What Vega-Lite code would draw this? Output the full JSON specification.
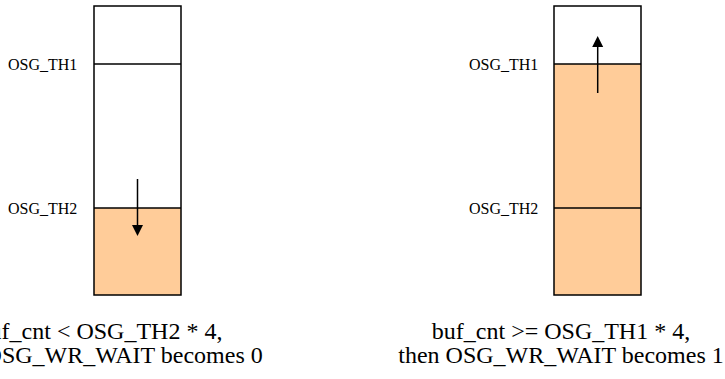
{
  "$schema": "https://vega.github.io/schema/vega-lite/v6.json",
  "width": 725,
  "height": 379,
  "padding": 0,
  "autosize": {"type": "none"},
  "background": "white",
  "config": {"view": {"stroke": null}},
  "datasets": {
    "fills": [
      {"x": 94, "x2": 181, "y": 208, "y2": 295},
      {"x": 554, "x2": 641, "y": 64, "y2": 295}
    ],
    "boxes": [
      {"x": 94, "x2": 181, "y": 6, "y2": 295},
      {"x": 554, "x2": 641, "y": 6, "y2": 295}
    ],
    "thresholds": [
      {"x": 94, "x2": 181, "y": 64, "label": "OSG_TH1", "lx": 8, "ly": 69.5},
      {"x": 94, "x2": 181, "y": 208, "label": "OSG_TH2", "lx": 8, "ly": 213.5},
      {"x": 554, "x2": 641, "y": 64, "label": "OSG_TH1", "lx": 469, "ly": 69.5},
      {"x": 554, "x2": 641, "y": 208, "label": "OSG_TH2", "lx": 469, "ly": 213.5}
    ],
    "shafts": [
      {"x": 137.5, "y": 179, "y2": 228},
      {"x": 597.7, "y": 44, "y2": 93}
    ],
    "headsDown": [
      {"x": 137.5, "y": 230.5}
    ],
    "headsUp": [
      {"x": 597.7, "y": 41.5}
    ],
    "captions": [
      {"x": 100, "y": 339, "text": "buf_cnt < OSG_TH2 * 4,"},
      {"x": 100, "y": 363, "text": "then OSG_WR_WAIT becomes 0"},
      {"x": 561, "y": 339, "text": "buf_cnt >= OSG_TH1 * 4,"},
      {"x": 561, "y": 363, "text": "then OSG_WR_WAIT becomes 1"}
    ]
  },
  "encoding": {},
  "layer": [
    {
      "data": {"name": "fills"},
      "mark": {"type": "rect", "fill": "#FFCC99", "stroke": null},
      "encoding": {
        "x": {"field": "x", "type": "quantitative", "scale": {"domain": [0, 725], "nice": false, "zero": false}, "axis": null},
        "x2": {"field": "x2"},
        "y": {"field": "y", "type": "quantitative", "scale": {"domain": [0, 379], "nice": false, "zero": false, "reverse": true}, "axis": null},
        "y2": {"field": "y2"}
      }
    },
    {
      "data": {"name": "boxes"},
      "mark": {"type": "rect", "fill": null, "fillOpacity": 0, "stroke": "#000000", "strokeWidth": 1.5},
      "encoding": {
        "x": {"field": "x", "type": "quantitative", "axis": null},
        "x2": {"field": "x2"},
        "y": {"field": "y", "type": "quantitative", "axis": null},
        "y2": {"field": "y2"}
      }
    },
    {
      "data": {"name": "thresholds"},
      "mark": {"type": "rule", "stroke": "#000000", "strokeWidth": 1.5},
      "encoding": {
        "x": {"field": "x", "type": "quantitative", "axis": null},
        "x2": {"field": "x2"},
        "y": {"field": "y", "type": "quantitative", "axis": null}
      }
    },
    {
      "data": {"name": "thresholds"},
      "mark": {"type": "text", "font": "Liberation Serif", "fontSize": 16, "align": "left", "baseline": "alphabetic", "fill": "#000000"},
      "encoding": {
        "x": {"field": "lx", "type": "quantitative", "axis": null},
        "y": {"field": "ly", "type": "quantitative", "axis": null},
        "text": {"field": "label"}
      }
    },
    {
      "data": {"name": "shafts"},
      "mark": {"type": "rule", "stroke": "#000000", "strokeWidth": 1.5},
      "encoding": {
        "x": {"field": "x", "type": "quantitative", "axis": null},
        "y": {"field": "y", "type": "quantitative", "axis": null},
        "y2": {"field": "y2"}
      }
    },
    {
      "data": {"name": "headsDown"},
      "mark": {"type": "point", "shape": "M-1,-1L1,-1L0,1Z", "size": 121, "filled": true, "fill": "#000000", "opacity": 1, "strokeWidth": 0},
      "encoding": {
        "x": {"field": "x", "type": "quantitative", "axis": null},
        "y": {"field": "y", "type": "quantitative", "axis": null}
      }
    },
    {
      "data": {"name": "headsUp"},
      "mark": {"type": "point", "shape": "M-1,1L1,1L0,-1Z", "size": 121, "filled": true, "fill": "#000000", "opacity": 1, "strokeWidth": 0},
      "encoding": {
        "x": {"field": "x", "type": "quantitative", "axis": null},
        "y": {"field": "y", "type": "quantitative", "axis": null}
      }
    },
    {
      "data": {"name": "captions"},
      "mark": {"type": "text", "font": "Liberation Serif", "fontSize": 24, "align": "center", "baseline": "alphabetic", "fill": "#000000"},
      "encoding": {
        "x": {"field": "x", "type": "quantitative", "axis": null},
        "y": {"field": "y", "type": "quantitative", "axis": null},
        "text": {"field": "text"}
      }
    }
  ]
}
